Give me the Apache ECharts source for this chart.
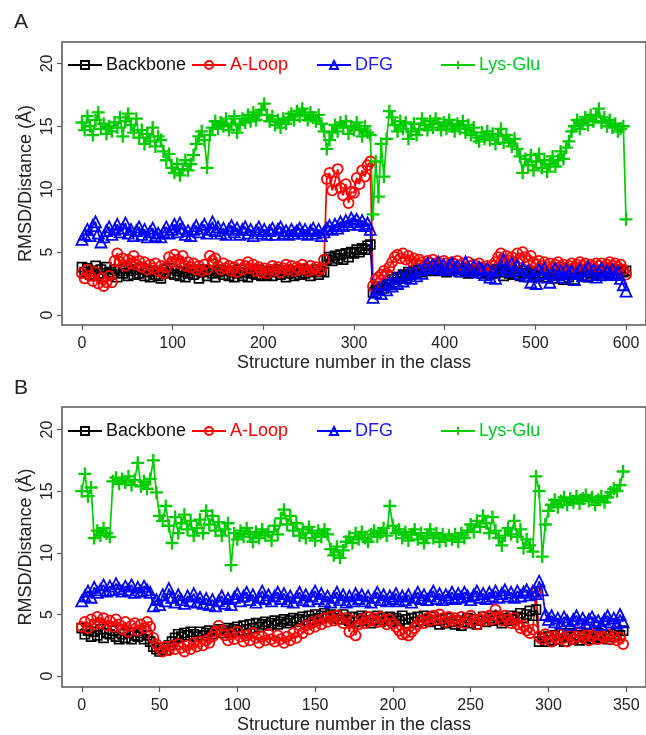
<!DOCTYPE html>
<html>
<head>
<meta charset="utf-8">
<script src="https://cdn.jsdelivr.net/npm/echarts@6/dist/echarts.min.js"></script>
<style>
  html, body { margin: 0; padding: 0; background: #fff; }
  #chart { width: 646px; height: 735px; }
</style>
</head>
<body>
<div id="chart"></div>
<script>
// structure number step between the values below
const STEP_A = 3;
const STEP_B = 2;

const seriesNames = ['Backbone', 'A-Loop', 'DFG', 'Lys-Glu'];
const xTicksA = [0, 100, 200, 300, 400, 500, 600];
const xTicksB = [0, 50, 100, 150, 200, 250, 300, 350];
const yTicks = [0, 5, 10, 15, 20];

// panel A, one value every 3 structures (0..600)
const backboneA = [
  3.8,3.4,3.7,3.2,3.5,3.9,3.1,3.6,3.3,3.8,
  3.4,3.2,3.6,3.0,3.5,3.3,3.7,3.1,3.5,3.2,
  3.6,3.3,3.7,3.1,3.4,3.0,3.5,3.2,3.1,2.9,
  3.4,3.6,3.3,3.7,3.2,3.5,3.1,3.4,3.0,3.3,
  3.6,3.2,3.5,2.9,3.4,3.6,3.1,3.5,3.3,3.0,
  3.4,3.6,3.2,3.5,3.1,3.4,3.0,3.3,3.6,3.1,
  3.4,3.0,3.3,3.5,3.2,3.6,3.1,3.4,3.2,3.5,
  3.1,3.4,3.6,3.2,3.5,3.0,3.3,3.5,3.1,3.4,
  3.2,3.6,3.3,3.5,3.1,3.4,3.6,3.2,3.5,3.4,
  4.4,4.6,4.3,4.7,4.5,4.8,4.4,4.9,4.6,5.0,
  4.9,5.2,5.0,5.3,5.2,5.5,5.6,1.8,2.0,2.2,
  2.3,2.1,2.5,2.4,2.8,2.6,3.0,2.9,3.2,3.1,
  3.4,3.2,3.5,3.3,3.6,3.4,3.7,3.5,3.8,3.6,
  3.7,3.5,3.8,3.6,3.4,3.7,3.5,3.8,3.6,3.4,
  3.7,3.5,3.3,3.6,3.4,3.7,3.5,3.3,3.6,3.4,
  3.2,3.5,3.3,3.6,3.4,3.1,3.5,3.3,3.6,3.2,
  3.4,3.1,3.5,3.3,3.0,3.4,3.2,3.5,3.1,3.3,
  3.0,3.4,3.2,2.9,3.3,3.1,3.4,2.8,3.2,3.0,
  3.3,2.8,3.2,3.5,3.1,3.4,3.0,3.3,3.5,3.2,
  3.4,3.1,3.5,3.3,3.6,3.2,3.5,3.3,3.6,3.4,
  3.5
];
const aLoopA = [
  3.3,2.9,3.6,3.1,2.7,3.4,2.5,2.9,2.3,2.6,
  3.1,2.6,4.3,4.9,4.2,4.5,3.9,4.4,4.1,4.7,
  4.0,4.3,3.8,4.2,3.6,4.0,3.7,4.1,3.5,3.9,
  3.3,3.8,4.6,4.2,4.8,4.4,4.1,4.7,3.9,4.2,
  3.8,4.1,3.6,3.9,3.5,4.0,3.6,4.7,4.3,4.5,
  3.9,3.6,4.1,3.7,3.9,3.5,3.8,3.4,4.0,3.6,
  3.9,4.2,3.7,4.0,3.5,3.8,3.4,3.7,3.3,3.6,
  3.9,3.5,3.8,3.4,3.7,4.0,3.6,3.9,3.5,3.8,
  3.6,4.0,3.7,3.5,3.9,3.6,3.8,3.5,3.7,4.4,
  10.8,11.3,9.9,10.6,11.6,10.1,9.5,10.4,8.9,9.8,
  9.7,10.9,10.4,11.5,11.0,11.9,12.2,2.3,2.8,3.0,
  3.2,3.5,3.3,3.8,4.2,4.6,4.8,4.5,4.9,4.4,
  4.7,4.3,4.5,4.1,4.4,4.2,4.0,4.3,4.1,4.4,
  4.0,4.2,3.9,4.3,4.1,3.8,4.2,4.0,4.3,3.9,
  4.1,3.8,4.2,3.9,4.0,3.7,4.1,3.8,3.6,3.9,
  3.6,3.9,4.2,4.6,4.9,4.4,4.7,4.3,4.6,4.1,
  4.9,4.5,5.0,4.6,4.3,4.7,4.2,4.0,4.3,3.9,
  4.2,3.8,4.1,3.7,4.0,4.2,3.8,4.0,3.7,3.9,
  4.1,3.8,4.0,4.2,3.9,4.1,3.7,4.0,3.8,4.1,
  3.9,4.1,3.8,4.0,4.2,3.9,4.1,3.8,4.0,3.6,
  3.2
];
const dfgA = [
  6.0,6.4,6.8,6.3,7.1,7.4,6.5,5.8,6.2,6.7,
  7.0,6.4,6.8,7.2,6.6,6.9,7.3,6.5,6.8,6.3,
  6.7,7.0,6.4,6.8,6.2,6.6,6.9,6.3,6.5,6.2,
  6.6,7.0,6.5,6.8,7.2,6.6,7.3,6.9,6.4,6.7,
  6.3,6.8,7.1,6.6,6.9,7.2,6.5,6.8,7.4,6.7,
  7.0,6.5,6.9,6.4,6.8,7.1,6.6,6.9,6.4,6.8,
  7.0,6.5,6.8,6.3,6.7,7.0,6.5,6.8,6.4,6.7,
  6.9,6.4,6.8,7.0,6.5,6.7,6.4,6.8,6.5,6.7,
  6.9,6.5,6.8,6.4,6.7,6.9,6.5,6.8,6.3,6.6,
  6.9,7.1,6.8,7.2,6.9,7.4,7.1,7.5,7.2,7.7,
  7.4,7.6,7.2,7.5,7.1,7.3,6.8,1.4,1.8,2.1,
  1.7,2.4,2.0,2.6,2.3,2.9,2.5,3.1,2.7,3.0,
  3.3,2.9,3.4,3.1,3.6,3.3,3.8,4.1,3.7,4.0,
  3.8,4.2,3.7,4.0,3.6,3.9,4.1,3.7,3.9,3.5,
  3.8,4.2,3.7,3.5,3.9,3.4,3.8,3.6,3.2,3.7,
  3.0,3.5,2.9,3.6,3.9,4.4,3.8,3.5,4.1,3.6,
  3.9,3.3,3.7,3.1,3.5,2.6,3.2,2.5,3.6,3.3,
  3.7,3.0,2.6,3.4,3.7,3.2,3.5,3.0,3.6,3.3,
  3.5,2.8,3.3,3.6,3.1,3.5,3.8,3.2,3.6,3.0,
  3.4,3.7,3.2,3.5,3.3,3.6,3.2,3.4,2.9,2.4,
  1.9
];
const lysGluA = [
  15.3,14.7,15.8,15.0,14.3,15.5,16.1,14.8,15.2,14.4,
  15.0,14.6,15.3,14.9,15.7,14.2,15.4,16.0,15.1,14.5,
  15.6,14.1,14.7,13.6,14.4,13.8,14.9,13.4,14.2,13.9,
  13.0,12.3,12.8,11.7,11.3,12.0,11.1,11.6,12.3,11.5,
  12.0,12.7,13.6,14.2,14.6,13.9,11.7,14.3,14.9,15.4,
  14.8,15.3,15.0,15.6,14.7,15.2,15.8,14.5,15.1,15.6,
  15.3,15.9,15.4,16.1,15.5,15.9,16.3,16.8,15.9,15.4,
  15.8,15.1,15.5,14.9,15.6,15.2,15.7,16.0,15.5,16.2,
  15.8,16.4,15.9,15.5,16.1,15.7,15.4,15.9,15.2,14.6,
  13.2,13.9,14.5,15.1,14.6,15.3,14.9,15.4,14.4,15.0,
  14.7,15.3,14.8,14.2,15.0,14.5,14.3,8.0,12.2,9.4,
  13.6,11.0,14.0,16.2,15.7,15.1,14.6,15.4,14.8,15.3,
  14.0,14.6,15.2,14.3,14.8,15.6,15.1,14.7,15.4,14.9,
  15.6,15.2,14.7,15.3,14.8,15.5,15.0,14.6,15.2,14.8,
  15.4,14.5,15.1,14.3,14.9,14.1,13.8,14.5,14.0,14.6,
  13.9,14.4,13.6,14.2,14.8,13.7,14.3,13.9,13.4,14.0,
  13.2,12.6,11.3,12.4,11.9,12.7,11.5,12.2,12.8,11.7,
  12.3,11.4,12.0,12.6,11.8,12.3,13.0,12.4,13.3,13.8,
  14.6,15.0,15.5,14.8,15.3,15.7,15.1,15.9,15.4,15.8,
  16.4,15.3,15.7,15.0,15.5,14.9,15.2,14.6,14.8,15.0,
  7.6
];

// panel B, one value every 2 structures (0..348)
const backboneB = [
  3.9,3.4,3.7,3.2,3.6,3.3,3.8,3.1,3.5,3.4,
  3.7,3.2,3.0,3.4,3.1,3.5,3.0,3.3,3.2,3.5,
  3.0,3.3,2.8,2.4,2.2,2.0,2.3,2.1,2.5,2.8,
  3.1,3.4,3.2,3.5,3.3,3.6,3.4,3.2,3.6,3.3,
  3.5,3.7,3.4,3.6,3.8,3.5,3.7,3.9,3.6,3.8,
  4.0,3.7,4.1,3.8,4.2,3.9,4.3,4.0,4.2,4.4,
  4.1,4.3,4.5,4.2,4.4,4.6,4.3,4.5,4.7,4.4,
  4.6,4.8,4.5,4.9,4.6,5.0,4.7,4.9,5.1,4.8,
  5.0,4.7,4.9,4.6,5.0,4.7,4.5,4.8,4.4,4.7,
  4.9,4.5,4.8,4.3,4.6,4.9,4.4,4.7,4.5,4.8,
  4.4,4.7,4.5,4.9,4.6,4.3,4.7,4.4,4.8,4.5,
  4.9,4.6,4.4,4.8,4.5,4.2,4.6,4.3,4.7,4.4,
  4.2,4.5,4.1,4.4,4.7,4.3,4.6,4.2,4.5,4.8,
  4.4,4.7,4.5,4.9,4.6,4.3,4.7,4.5,4.9,4.6,
  4.8,5.1,4.7,5.0,5.3,4.9,5.4,2.8,3.1,2.8,
  3.2,2.9,3.3,3.0,3.4,2.8,3.2,3.5,3.0,3.3,
  2.9,3.3,3.1,3.4,3.0,3.2,3.5,3.1,3.3,3.0,
  3.4,3.2,3.6,3.3,3.7
];
const aLoopB = [
  4.0,4.4,3.9,4.6,4.2,4.8,4.3,4.7,4.1,4.5,
  4.0,4.6,4.2,3.8,4.4,3.6,4.1,4.3,3.7,4.2,
  3.9,4.4,4.0,3.1,2.6,2.3,2.0,2.4,2.1,2.5,
  2.2,2.6,2.3,2.0,2.5,2.2,2.7,2.4,2.8,2.5,
  2.9,2.7,3.2,3.6,4.1,3.7,3.3,2.9,3.4,3.0,
  3.6,3.2,2.8,3.3,2.9,3.5,3.1,2.7,3.2,2.9,
  3.4,3.0,2.8,3.3,3.0,2.7,3.2,2.9,3.5,3.1,
  3.8,3.5,4.1,3.8,4.3,4.0,4.5,4.2,4.7,4.4,
  4.8,4.5,4.9,4.6,4.3,4.7,3.6,4.5,3.3,4.2,
  4.6,4.3,4.8,4.5,4.7,4.4,4.8,4.5,4.2,4.6,
  4.3,4.0,3.7,3.4,3.5,3.3,3.6,3.9,4.2,4.5,
  4.3,4.7,4.5,4.9,4.6,5.0,4.7,4.4,4.8,4.5,
  4.7,4.4,4.8,4.3,4.6,4.9,4.5,4.2,4.6,4.8,
  4.5,4.9,4.6,5.4,4.8,4.5,4.9,4.6,4.3,4.7,
  4.2,3.9,4.1,3.7,3.5,3.8,6.8,3.2,3.0,3.4,
  3.1,2.8,3.2,3.0,3.4,3.1,2.8,3.3,3.0,3.2,
  3.5,3.1,3.3,2.9,3.2,3.4,3.0,3.3,3.1,3.4,
  3.0,3.2,2.9,3.1,2.6
];
const dfgB = [
  6.1,6.5,6.9,6.4,7.2,6.8,7.0,7.4,6.9,7.3,
  7.0,7.5,7.1,6.9,7.3,7.0,7.4,6.8,7.2,6.9,
  7.3,7.0,6.8,5.7,6.2,5.8,6.6,6.1,7.1,6.4,
  6.0,6.6,6.2,5.9,6.5,6.1,6.7,6.0,6.4,5.9,
  6.3,5.8,6.2,5.7,6.1,6.5,5.9,6.3,5.8,6.4,
  6.7,6.1,6.5,6.8,6.2,6.6,6.0,6.4,6.9,6.3,
  6.6,6.1,6.5,6.8,6.3,6.7,6.1,6.5,6.0,6.4,
  6.8,6.2,6.6,6.1,6.5,6.9,6.3,6.7,6.1,6.5,
  6.0,6.4,6.8,6.2,6.6,6.0,6.5,6.1,6.7,6.3,
  6.6,6.1,6.5,6.0,6.4,6.8,6.2,6.6,6.1,6.5,
  6.3,6.7,6.1,6.5,6.2,6.6,6.0,6.4,6.8,6.3,
  6.6,6.2,6.5,6.9,6.3,6.7,6.2,6.6,6.4,6.8,
  6.3,6.7,6.4,6.8,6.5,6.2,6.6,6.9,6.4,6.7,
  6.3,6.8,6.5,6.9,6.4,6.7,7.0,6.5,6.8,6.4,
  6.9,6.5,6.8,7.0,6.6,6.9,6.7,7.7,7.0,5.0,
  4.6,4.9,4.4,4.7,4.3,4.8,4.5,4.2,4.6,4.9,
  4.4,4.7,4.3,4.6,4.8,4.4,4.5,4.2,4.6,4.9,
  4.4,4.7,4.3,5.0,4.4
];
const lysGluB = [
  15.0,16.4,14.6,15.3,11.2,11.8,11.4,12.0,11.6,11.3,
  15.8,16.1,15.6,16.0,15.7,16.2,15.5,15.9,17.3,15.4,
  15.8,15.2,16.0,17.5,14.9,13.0,12.6,13.8,12.2,10.8,
  12.9,11.6,12.4,13.1,11.9,12.6,11.4,12.0,12.7,11.6,
  13.4,12.3,13.0,11.8,12.5,11.4,11.9,12.4,9.0,11.6,
  11.1,11.8,11.3,12.0,11.5,10.9,11.7,11.2,11.9,11.4,
  11.7,11.0,12.2,11.5,12.8,13.5,12.3,13.0,11.8,12.4,
  11.4,11.9,11.2,12.1,11.6,11.0,11.8,11.3,11.9,11.5,
  10.3,9.8,10.5,9.6,10.2,10.9,11.3,10.8,11.6,11.1,
  11.7,11.2,10.9,11.5,11.8,11.3,11.6,12.0,11.4,13.8,
  12.2,11.6,11.9,11.2,11.7,11.0,11.5,11.9,11.1,11.6,
  10.8,11.4,11.9,11.2,11.6,10.9,11.5,11.0,11.4,11.1,
  11.5,10.9,11.6,11.2,11.8,12.3,11.7,12.6,12.1,13.0,
  12.4,11.6,12.9,11.8,11.2,10.6,11.4,12.0,11.5,12.6,
  11.3,11.9,10.4,11.1,10.6,10.1,16.2,15.0,9.7,12.3,
  13.4,13.9,14.3,13.7,14.2,14.5,13.9,14.4,14.1,14.6,
  14.0,14.4,14.7,14.2,14.5,13.9,14.3,14.6,14.1,14.5,
  14.9,15.2,15.0,15.5,16.6
];

const FONT = '"Liberation Sans", Arial, sans-serif';
const styles = {
  'Backbone': { color: '#000000', text: '#111111', symbol: 'rect', size: 9, bw: 1.7 },
  'A-Loop':   { color: '#ff0000', text: '#ff0000', symbol: 'circle', size: 10, bw: 1.8 },
  'DFG':      { color: '#0000ff', text: '#2020ff', symbol: 'triangle', size: 11, bw: 1.8 },
  'Lys-Glu':  { color: '#00cc00', text: '#00cc22', symbol: 'path://M5,0L5,10M0,5L10,5', size: 13, bw: 2.3 }
};

function toPairs(vals, step) {
  return vals.map(function (v, i) { return [i * step, v]; });
}

const panels = [
  { step: STEP_A, data: [backboneA, aLoopA, dfgA, lysGluA], xMin: -22, xMax: 622, xTicks: xTicksA,
    yMin: -0.8, yMax: 21.7, grid: { left: 62, top: 42, width: 588, height: 283 }, legendTop: 56, letter: 'A', letterTop: 7 },
  { step: STEP_B, data: [backboneB, aLoopB, dfgB, lysGluB], xMin: -12.7, xMax: 362.7, xTicks: xTicksB,
    yMin: -0.88, yMax: 21.83, grid: { left: 62, top: 407, width: 591, height: 285 }, legendTop: 422, letter: 'B', letterTop: 373 }
];

const legendLeft = [67, 191, 316, 440];

let option = {
  animation: false,
  backgroundColor: '#fff',
  textStyle: { fontFamily: FONT },
  title: [],
  legend: [],
  grid: [],
  xAxis: [],
  yAxis: [],
  series: []
};

panels.forEach(function (p, pi) {
  option.title.push({
    text: p.letter, left: 9, top: p.letterTop,
    textStyle: { fontSize: 21, fontWeight: 'normal', color: '#222', fontFamily: FONT }
  });
  option.grid.push(Object.assign({
    show: true, borderColor: '#555', borderWidth: 1.5, backgroundColor: 'transparent'
  }, p.grid));
  option.xAxis.push({
    type: 'value', gridIndex: pi, min: p.xMin, max: p.xMax,
    name: 'Structure number in the class', nameLocation: 'middle', nameGap: 29, nameMoveOverlap: false,
    nameTextStyle: { fontSize: 18, color: '#222', fontFamily: FONT },
    axisLine: { show: false, onZero: false },
    axisTick: { show: true, customValues: p.xTicks, length: 5, lineStyle: { color: '#555', width: 1.2 } },
    axisLabel: { customValues: p.xTicks, fontSize: 16, color: '#222', margin: 11, fontFamily: FONT },
    splitLine: { show: false }
  });
  option.yAxis.push({
    type: 'value', gridIndex: pi, min: p.yMin, max: p.yMax,
    name: 'RMSD/Distance (Å)', nameLocation: 'middle', nameGap: 27, nameMoveOverlap: false,
    nameTextStyle: { fontSize: 18, color: '#222', fontFamily: FONT },
    axisLine: { show: false, onZero: false },
    axisTick: { show: true, customValues: yTicks, length: 5, lineStyle: { color: '#555', width: 1.2 } },
    axisLabel: { customValues: yTicks, rotate: 90, fontSize: 16, color: '#222', margin: 6, fontFamily: FONT },
    splitLine: { show: false }
  });
  seriesNames.forEach(function (name, k) {
    const s = styles[name];
    option.series.push({
      name: name, type: 'line', xAxisIndex: pi, yAxisIndex: pi,
      data: toPairs(p.data[k], p.step),
      symbol: s.symbol, symbolSize: s.size, showAllSymbol: true,
      lineStyle: { color: s.color, width: 1.7 },
      itemStyle: { color: 'rgba(0,0,0,0)', borderColor: s.color, borderWidth: s.bw },
      emphasis: { disabled: true }
    });
    option.legend.push({
      left: legendLeft[k], top: p.legendTop, padding: 0,
      data: [name], selectedMode: false,
      itemWidth: 34, itemHeight: 10, itemGap: 0,
      textStyle: { fontSize: 18, color: s.text, fontFamily: FONT, padding: [0, 0, 0, -1] }
    });
  });
});

let mychart = echarts.init(document.getElementById('chart'));
mychart.setOption(option);
window.addEventListener('resize', function () {
  mychart.resize();
});
</script>
</body>
</html>
